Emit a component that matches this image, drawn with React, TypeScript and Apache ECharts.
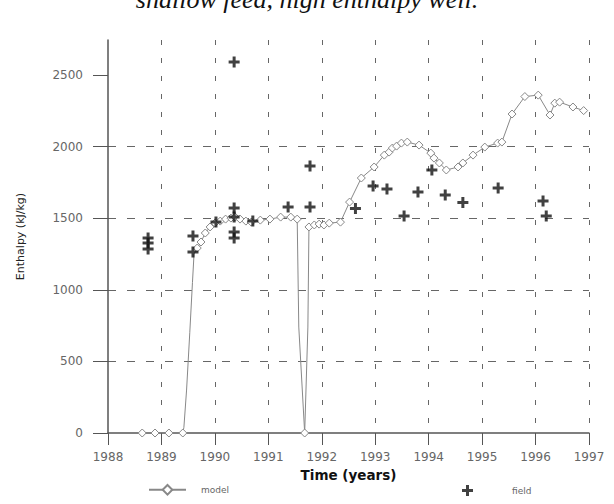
import React, { useEffect, useRef } from 'react';
import * as echarts from 'echarts';

const TITLE = 'shallow feed, high enthalpy well.';
const X_NAME = 'Time (years)';
const Y_NAME = 'Enthalpy (kJ/kg)';

const yTicks = [0, 500, 1000, 1500, 2000, 2500];

// model: simulated enthalpy
const modelYears = [
  1988.64, 1988.88, 1989.14, 1989.40, 1989.42, 1989.47, 1989.53, 1989.58, 1989.61,
  1989.67, 1989.74, 1989.82, 1989.91, 1990.00, 1990.10, 1990.20, 1990.30, 1990.38,
  1990.47, 1990.58, 1990.68, 1990.85, 1991.03, 1991.23, 1991.42, 1991.54,
  1991.57, 1991.68, 1991.74,
  1991.76, 1991.86, 1991.95, 1992.04, 1992.14, 1992.35, 1992.52, 1992.74, 1992.98,
  1993.17, 1993.26, 1993.32, 1993.40, 1993.49, 1993.60, 1993.82, 1994.04, 1994.10,
  1994.20, 1994.33, 1994.55, 1994.64, 1994.83, 1995.05, 1995.29, 1995.37, 1995.56,
  1995.80, 1996.05, 1996.27, 1996.36, 1996.45, 1996.70, 1996.90,
];
const modelValues = [
  0, 0, 0, 0, 40, 300, 700, 1050, 1250,
  1292, 1334, 1397, 1439, 1466, 1480, 1494, 1501, 1508,
  1494, 1480, 1473, 1487, 1494, 1508, 1508, 1494,
  740, 0, 740,
  1439, 1453, 1459, 1453, 1466, 1473, 1613, 1781, 1858,
  1941, 1962, 1990, 2004, 2025, 2032, 2011, 1955, 1920,
  1886, 1837, 1858, 1886, 1941, 1997, 2025, 2032, 2228,
  2350, 2360, 2221, 2304, 2311, 2277, 2252,
];
// indices of model points drawn without a marker
const modelNoMarker = [4, 5, 6, 7, 8, 26, 28];

// field: measured enthalpy
const fieldYears = [
  1988.75, 1988.75, 1988.75, 1989.59, 1989.59, 1990.02, 1990.36, 1990.36, 1990.36,
  1990.36, 1990.36, 1990.71, 1991.37, 1991.78, 1991.78, 1992.63, 1992.96, 1993.22,
  1993.54, 1993.80, 1994.06, 1994.31, 1994.64, 1995.30, 1996.14, 1996.20,
];
const fieldValues = [
  1362, 1327, 1285, 1376, 1264, 1473, 2591, 1571, 1508,
  1404, 1362, 1480, 1578, 1865, 1578, 1568, 1725, 1704,
  1515, 1683, 1837, 1662, 1610, 1711, 1620, 1515,
];

const PLUS = 'path://M4,0H7V4H11V7H7V11H4V7H0V4H4Z';
const SANS = 'DejaVu Sans';

export default function App() {
  const ref = useRef<HTMLDivElement>(null);
  useEffect(() => {
    if (!ref.current) return;
    const chart = echarts.init(ref.current, null, { renderer: 'svg' });
    const modelData = modelYears.map((x, i) =>
      modelNoMarker.includes(i)
        ? { value: [x, modelValues[i]], symbol: 'none' }
        : { value: [x, modelValues[i]] }
    );
    const fieldData = fieldYears.map((x, i) => [x, fieldValues[i]]);
    chart.setOption({
      animation: false,
      backgroundColor: '#ffffff',
      grid: { left: 108, right: 25, top: 40, bottom: 71, containLabel: false },
      graphic: [
        {
          type: 'text',
          x: 307,
          y: -1,
          style: {
            text: TITLE,
            font: 'italic 26px "Liberation Serif"',
            fill: '#111',
            align: 'center',
            verticalAlign: 'middle',
          },
        },
      ],
      xAxis: {
        type: 'value',
        min: 1988,
        max: 1997,
        interval: 1,
        name: X_NAME,
        nameLocation: 'middle',
        nameGap: 32,
        nameTextStyle: { fontFamily: SANS, fontWeight: 'bold', fontSize: 13.5, color: '#111' },
        axisLine: { show: true, lineStyle: { color: '#555', width: 1.5 } },
        axisTick: { show: true, length: 12, lineStyle: { color: '#555', width: 1 } },
        axisLabel: {
          margin: 18,
          color: '#666',
          fontFamily: SANS,
          fontSize: 12,
          formatter: (v: number) => String(v),
        },
        splitLine: {
          show: true,
          showMinLine: false,
          lineStyle: { type: [5, 13], color: '#666', width: 1 },
        },
      },
      yAxis: {
        type: 'value',
        min: 0,
        max: 2745,
        interval: 500,
        name: Y_NAME,
        nameLocation: 'middle',
        nameGap: 82,
        nameTextStyle: { fontFamily: SANS, fontSize: 11, color: '#222' },
        axisLine: { show: true, lineStyle: { color: '#555', width: 1.5 } },
        axisTick: { show: true, length: 15, customValues: yTicks, lineStyle: { color: '#555', width: 1 } },
        axisLabel: {
          margin: 25,
          color: '#666',
          fontFamily: SANS,
          fontSize: 12,
          customValues: yTicks,
          formatter: (v: number) => (v % 500 === 0 ? String(v) : ''),
        },
        splitLine: {
          show: true,
          showMinLine: false,
          showMaxLine: false,
          lineStyle: { type: [8, 11], color: '#666', width: 1 },
        },
      },
      legend: [
        {
          data: [{ name: 'model' }],
          left: 148,
          top: 484,
          padding: 0,
          itemWidth: 37,
          itemHeight: 12,
          selectedMode: false,
          textStyle: { fontFamily: SANS, fontSize: 9, color: '#666', padding: [0, 0, 0, 10] },
        },
        {
          data: [{ name: 'field', icon: PLUS }],
          left: 462,
          top: 485,
          padding: 0,
          itemWidth: 11,
          itemHeight: 11,
          selectedMode: false,
          textStyle: { fontFamily: SANS, fontSize: 9, color: '#666', padding: [0, 0, 0, 34] },
        },
      ],
      series: [
        {
          name: 'model',
          type: 'line',
          data: modelData,
          symbol: 'diamond',
          symbolSize: 8,
          showSymbol: true,
          showAllSymbol: true,
          lineStyle: { color: '#888', width: 1 },
          itemStyle: { color: '#fff', borderColor: '#888', borderWidth: 1 },
          z: 2,
        },
        {
          name: 'field',
          type: 'scatter',
          data: fieldData,
          symbol: PLUS,
          symbolSize: 11,
          itemStyle: { color: '#111' },
          z: 3,
        },
      ],
    });
    return () => chart.dispose();
  }, []);
  return (
    <div
      ref={ref}
      style={{ position: 'fixed', left: 0, top: 0, width: 614, height: 504 }}
    />
  );
}
